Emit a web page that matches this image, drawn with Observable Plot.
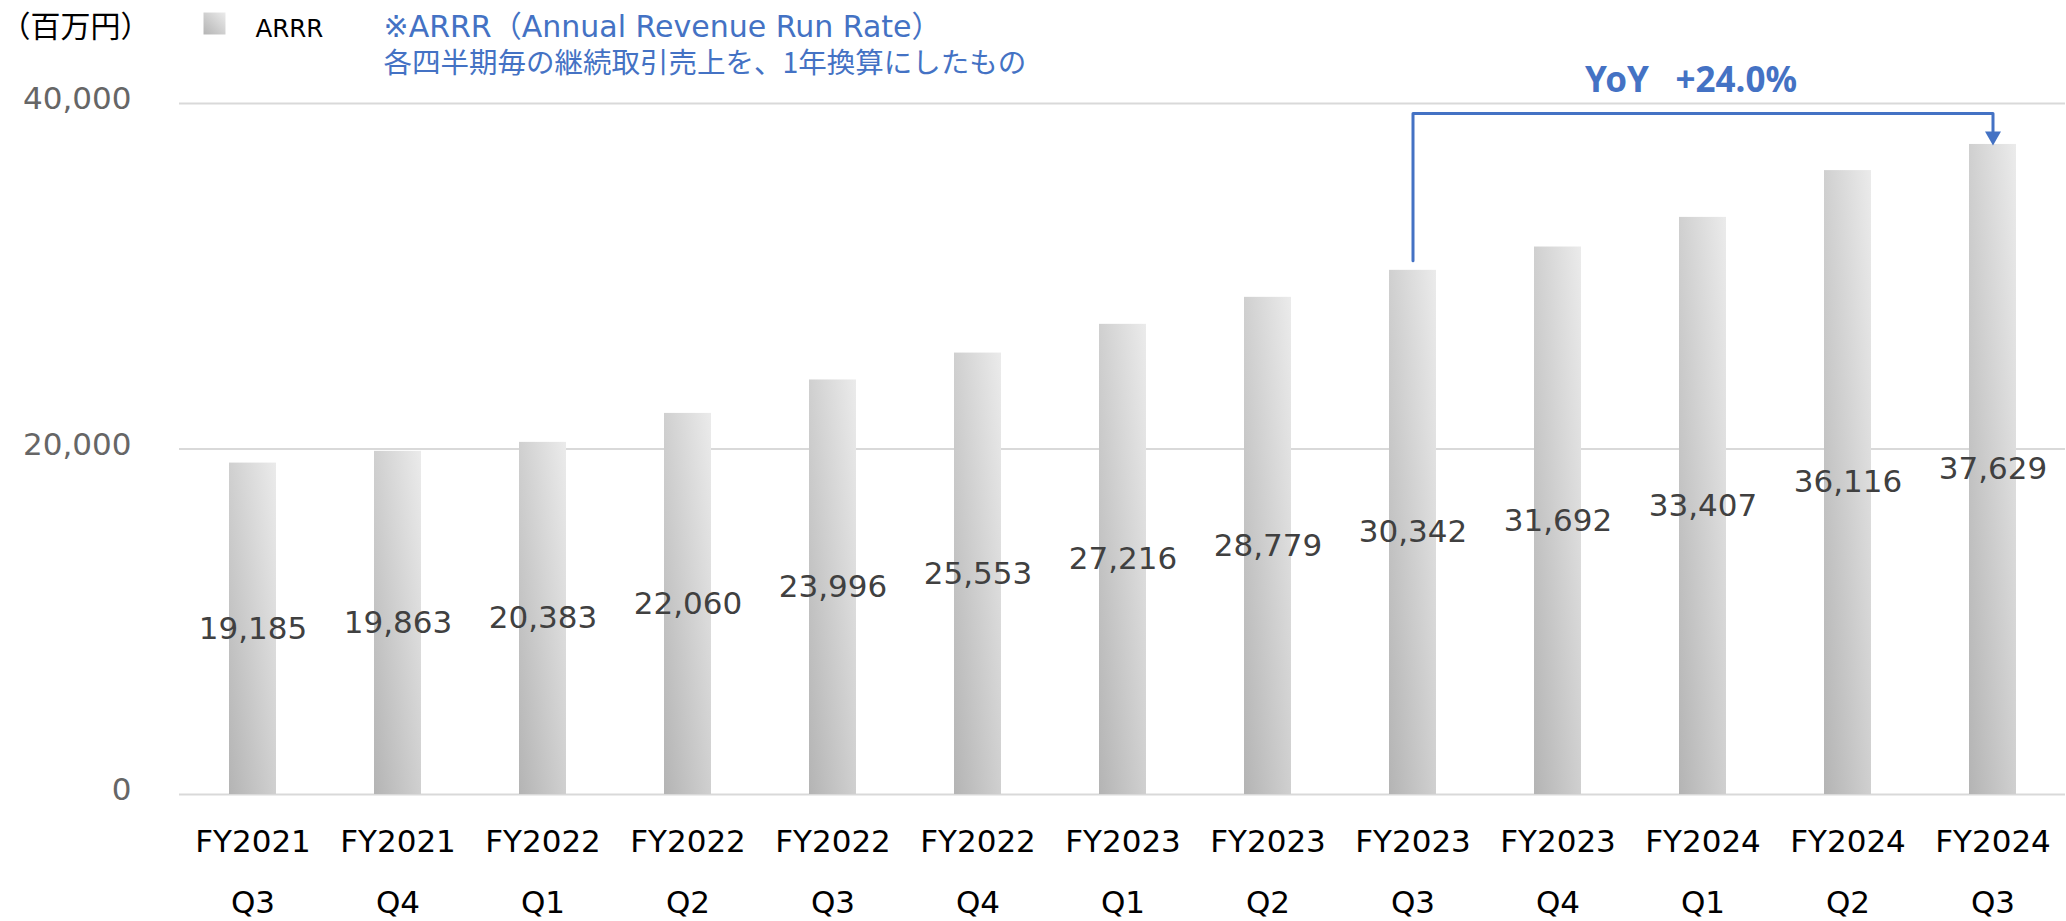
<!DOCTYPE html>
<html>
<head>
<meta charset="utf-8">
<script src="https://cdn.jsdelivr.net/npm/d3@7"></script>
<script src="https://cdn.jsdelivr.net/npm/@observablehq/plot@0.6"></script>
<style>
  html, body { margin: 0; padding: 0; background: #fff; }
  #chart { width: 2066px; height: 921px; }
</style>
</head>
<body>
<div id="chart"></div>
<script>
// ---- data ----
const fiscalYears = ["FY2021","FY2021","FY2022","FY2022","FY2022","FY2022","FY2023","FY2023","FY2023","FY2023","FY2024","FY2024","FY2024"];
const quarters    = ["Q3","Q4","Q1","Q2","Q3","Q4","Q1","Q2","Q3","Q4","Q1","Q2","Q3"];
const arrrValues  = [19185,19863,20383,22060,23996,25553,27216,28779,30342,31692,33407,36116,37629];
const yTicks = [0, 20000, 40000];

const unitLabel = ["（百万円）"];
const legendLabel = ["ARRR"];
const noteLines = ["※ARRR（Annual Revenue Run Rate）", "各四半期毎の継続取引売上を、1年換算にしたもの"];

// YoY annotation (from FY2023 Q3 to FY2024 Q3)
const yoyText = ["YoY\u2002 +24.0%"];
const yoyFromIndex = 8, yoyToIndex = 12, yoyMidIndex = 10;
const yoyBracketValues = [30900, 39420, 39420, 38300]; // bracket path heights (data units)
const yoyArrowValue = [37970];

// ---- build ----
const keys = fiscalYears.map((fy, i) => `${fy} ${quarters[i]}`);
const rows = keys.map((k, i) => ({key: k, fy: fiscalYears[i], q: quarters[i], value: arrrValues[i]}));
const fyOf = new Map(rows.map(d => [d.key, d.fy]));
const qOf = new Map(rows.map(d => [d.key, d.q]));

const bracket = [
  {x: keys[yoyFromIndex], y: yoyBracketValues[0]},
  {x: keys[yoyFromIndex], y: yoyBracketValues[1]},
  {x: keys[yoyToIndex],   y: yoyBracketValues[2]},
  {x: keys[yoyToIndex],   y: yoyBracketValues[3]}
];

const blue = "#4472C4";
const fmt = d3.format(",");
const downTriangle = {
  draw(context, size) {
    const w = Math.sqrt(size) * 1.5, h = w * 0.875;
    context.moveTo(-w / 2, -h / 2);
    context.lineTo(w / 2, -h / 2);
    context.lineTo(0, h / 2);
    context.closePath();
  }
};

const chart = Plot.plot({
  width: 2066,
  height: 921,
  marginLeft: 179,
  marginRight: 1,
  marginTop: 103,
  marginBottom: 127,
  style: {fontFamily: "'DejaVu Sans', sans-serif", background: "#fff"},
  x: {type: "band", domain: keys, paddingInner: 0.676, paddingOuter: 0.338, axis: null},
  y: {domain: [0, 40000], axis: null},
  marks: [
    Plot.gridY(yTicks, {stroke: "#d9d9d9", strokeOpacity: 1, strokeWidth: 2}),
    Plot.axisY(yTicks, {tickSize: 0, tickPadding: 48, fontSize: 31, fill: "#666666", tickFormat: fmt, dy: -4}),
    Plot.axisX({tickSize: 0, tickPadding: 35, fontSize: 31, fill: "#000", tickFormat: d => fyOf.get(d)}),
    Plot.axisX({tickSize: 0, tickPadding: 96, fontSize: 31, fill: "#000", tickFormat: d => qOf.get(d)}),
    Plot.barY(rows, {x: "key", y: "value", fill: "url(#barGrad)"}),
    Plot.text(rows, {x: "key", y: d => d.value / 2, text: d => fmt(d.value), fontSize: 31, fill: "#404040"}),
    Plot.line(bracket, {x: "x", y: "y", stroke: blue, strokeWidth: 3, curve: "linear"}),
    Plot.dot(yoyArrowValue, {x: () => keys[yoyToIndex], y: d => d, symbol: downTriangle, r: 6, fill: blue, stroke: null}),
    Plot.text(yoyText, {x: () => keys[yoyMidIndex], text: d => d, frameAnchor: "top", dy: -36, dx: -12,
      fontSize: 35, fontWeight: "bold", fill: blue, fontFamily: "'Noto Sans', sans-serif"}),
    // header
    Plot.text(unitLabel, {text: d => d, frameAnchor: "top-left", textAnchor: "start", lineAnchor: "bottom",
      dx: -179, dy: -67, fontSize: 30, fill: "#000", fontFamily: "'Noto Sans CJK JP', sans-serif"}),
    Plot.dot([0], {frameAnchor: "top-left", dx: 35, dy: -80, symbol: "square", r: 12.4, fill: "url(#barGrad)", stroke: null}),
    Plot.text(legendLabel, {text: d => d, frameAnchor: "top-left", textAnchor: "start", lineAnchor: "bottom",
      dx: 76, dy: -67, fontSize: 24.5, fill: "#000"}),
    Plot.text(noteLines.slice(0, 1), {text: d => d, frameAnchor: "top-left", textAnchor: "start", lineAnchor: "bottom",
      dx: 204, dy: -67, fontSize: 30, fill: blue, fontFamily: "'DejaVu Sans', 'Noto Sans CJK JP', sans-serif"}),
    Plot.text(noteLines.slice(1, 2), {text: d => d, frameAnchor: "top-left", textAnchor: "start", lineAnchor: "bottom",
      dx: 204, dy: -31, fontSize: 28.5, fill: blue, fontFamily: "'Noto Sans CJK JP', sans-serif"})
  ]
});

const defs = d3.select(chart).insert("defs", ":first-child");
const grad = defs.append("linearGradient").attr("id", "barGrad")
  .attr("x1", 0).attr("y1", 1).attr("x2", 1).attr("y2", 0);
grad.append("stop").attr("offset", 0).attr("stop-color", "#b4b4b4");
grad.append("stop").attr("offset", 1).attr("stop-color", "#ebebeb");

document.getElementById("chart").appendChild(chart);
</script>
</body>
</html>
